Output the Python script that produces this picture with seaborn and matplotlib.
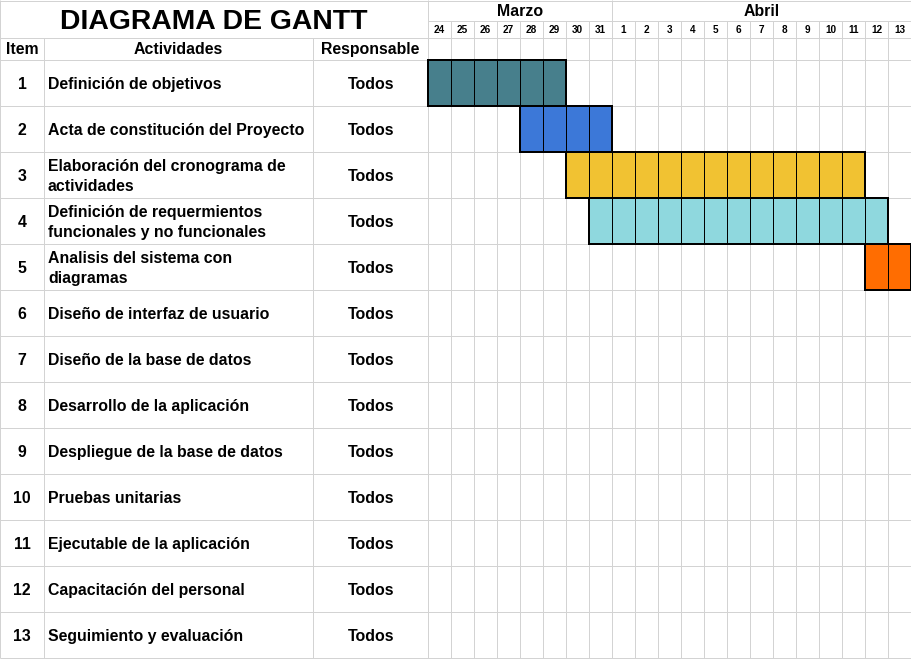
import numpy as np
import pandas as pd
import matplotlib
matplotlib.use("Agg")
import matplotlib.pyplot as plt
import seaborn as sns
from matplotlib.colors import ListedColormap
from matplotlib.patches import Rectangle

# ---------------- data ----------------
title = "DIAGRAMA DE GANTT"
headers = ["Item", "Actividades", "Responsable"]
months = ["Marzo", "Abril"]
month_days = [8, 13]
days = ["24", "25", "26", "27", "28", "29", "30", "31",
        "1", "2", "3", "4", "5", "6", "7", "8", "9", "10", "11", "12", "13"]
items = [str(i) for i in range(1, 14)]
activities = [
    "Definición de objetivos",
    "Acta de constitución del Proyecto",
    "Elaboración del cronograma de\nactividades",
    "Definición de requermientos\nfuncionales y no funcionales",
    "Analisis del sistema con\ndiagramas",
    "Diseño de interfaz de usuario",
    "Diseño de la base de datos",
    "Desarrollo de la aplicación",
    "Despliegue de la base de datos",
    "Pruebas unitarias",
    "Ejecutable de la aplicación",
    "Capacitación del personal",
    "Seguimiento y evaluación",
]
responsables = ["Todos"] * 13
task_start = [0, 4, 6, 7, 19]   # index into days
task_dur = [6, 4, 13, 13, 2]
task_colors = ["#477F8C", "#3C78D8", "#F1C232", "#8FD8DE", "#FF6D01"]

# ---------------- layout ----------------
W, H = 912, 659
col_x = [0, 44, 313, 428]
day_w = 23
row_h = 46
y_month, y_day, y_head, y_rows = 0, 21, 38, 60
gx0 = col_x[3]
n_days = len(days)
n_rows = len(items)
gx1 = gx0 + day_w * n_days
gy1 = y_rows + row_h * n_rows
grey = "#D3D3D3"
px = 72 / 100.0
fs = 11.4

sns.set_theme(style="white")
plt.rcParams['font.family'] = ['Liberation Sans', 'DejaVu Sans']
plt.rcParams['font.weight'] = 'bold'
plt.rcParams['text.color'] = 'black'

fig = plt.figure(figsize=(W / 100, H / 100), dpi=100)
ax0 = fig.add_axes([0, 0, 1, 1])
ax0.set_xlim(0, W)
ax0.set_ylim(H, 0)
ax0.axis("off")


def txt(x, y, s, ha="center", size=fs):
    ax0.text(x, y, s, ha=ha, va="baseline", fontsize=size,
             fontweight="bold", color="black")


# grey grid
lw = 1 * px
ax0.hlines(0.5, 0, gx1, color=grey, lw=lw)
ax0.hlines(y_day, gx0, gx1, color=grey, lw=lw)
ax0.hlines(y_head, 0, gx1, color=grey, lw=lw)
for r in range(n_rows + 1):
    ax0.hlines(y_rows + r * row_h, 0, gx1, color=grey, lw=lw)
ax0.vlines(0.5, 0, gy1, color=grey, lw=lw)
ax0.vlines(col_x[1], y_head, gy1, color=grey, lw=lw)
ax0.vlines(col_x[2], y_head, gy1, color=grey, lw=lw)
ax0.vlines(gx0, 0, gy1, color=grey, lw=lw)
for j in range(1, n_days + 1):
    ax0.vlines(gx0 + j * day_w, y_day, gy1, color=grey, lw=lw)
mx = gx0
for m, nd in zip(months, month_days):
    ax0.vlines(mx + nd * day_w, 0, gy1, color=grey, lw=lw)
    txt(mx + nd * day_w / 2, 16, m)
    mx += nd * day_w

for j, d in enumerate(days):
    txt(gx0 + (j + 0.5) * day_w, 33, d, size=7.2)

# title & headers
txt(gx0 / 2, 29, title, size=20.4)
hx = [22, 178, 370]
for x, h in zip(hx, headers):
    txt(x, 54, h)

for r in range(n_rows):
    yc = y_rows + (r + 0.5) * row_h
    txt(22, yc + 6, items[r])
    lines = activities[r].split("\n")
    if len(lines) == 1:
        txt(48, yc + 6, lines[0], ha="left")
    else:
        txt(48, yc - 4, lines[0], ha="left")
        txt(48, yc + 16, lines[1], ha="left")
    txt(371, yc + 6, responsables[r])

# gantt heatmap
mat = np.full((n_rows, n_days), np.nan)
for t, (s, d) in enumerate(zip(task_start, task_dur)):
    mat[t, s:s + d] = t
df = pd.DataFrame(mat, index=items, columns=days)

axg = fig.add_axes([gx0 / W, 1 - gy1 / H, (gx1 - gx0) / W, (gy1 - y_rows) / H])
axg.patch.set_alpha(0)
sns.heatmap(df, ax=axg, cmap=ListedColormap(task_colors), vmin=-0.5,
            vmax=len(task_colors) - 0.5, mask=np.isnan(mat), cbar=False,
            linewidths=1 * px, linecolor="black",
            xticklabels=False, yticklabels=False)
mesh = axg.collections[0]
edge = np.zeros((n_rows * n_days, 4))
edge[~np.isnan(mat).ravel(), 3] = 1.0
mesh.set_edgecolors(edge)
axg.axis("off")
for t, (s, d) in enumerate(zip(task_start, task_dur)):
    axg.add_patch(Rectangle((s, t), d, 1, fill=False, ec="black",
                            lw=2 * px, clip_on=False, zorder=5))

fig.savefig("out.png", dpi=100)
